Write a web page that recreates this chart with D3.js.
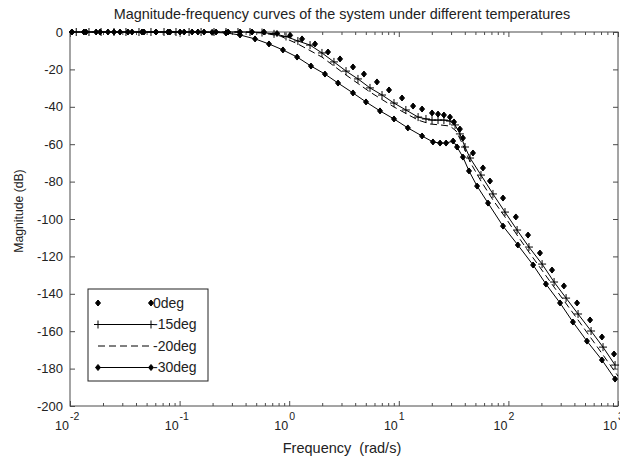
<!DOCTYPE html>
<html>
<head>
<meta charset="utf-8">
<script src="https://cdn.jsdelivr.net/npm/d3@7"></script>
<style>
  html, body { margin: 0; padding: 0; background: #fff; }
  svg { display: block; font-family: "Liberation Sans", Arial, sans-serif; }
</style>
</head>
<body>
<div id="chart"></div>
<script>
// Magnitude-frequency data (rad/s, dB)
const freq0 = [0.0104, 0.0134, 0.0173, 0.0222, 0.0286, 0.0368, 0.0473, 0.0609, 0.0783, 0.101,
  0.130, 0.167, 0.215, 0.277, 0.356, 0.458, 0.589, 0.774, 1.02, 1.31, 1.72, 2.26, 2.91, 3.82,
  4.81, 6.32, 8.14, 10.7, 13.5, 16.3, 20.1, 22.8, 25.8, 29.3, 31.9, 36.1, 38.5, 47.5, 58.6,
  67.9, 89.3, 117, 151, 194, 250, 321, 423, 556, 714, 920];
const mag0 = [0, 0, 0, 0, 0, 0, 0, 0, 0, 0,
  0, 0, 0, 0, 0, 0, 0, -0.8, -1.8, -3.7, -6.4, -10.7, -14.4, -18.7,
  -22.5, -26.7, -31.0, -35.3, -39.6, -41.2, -43.3, -43.9, -44.4, -45.5, -48.1, -51.9, -56.7, -64.7, -72.7,
  -79.7, -88.8, -98.9, -108.6, -118.2, -127.3, -135.8, -144.9, -154.0, -163.1, -172.2];

const freq15 = [0.0114, 0.0149, 0.0192, 0.0252, 0.0324, 0.0426, 0.0548, 0.0721, 0.0927, 0.122,
  0.157, 0.206, 0.265, 0.341, 0.439, 0.565, 0.727, 0.935, 1.20, 1.55, 1.99, 2.56, 3.30, 4.24,
  5.46, 7.03, 9.04, 11.6, 15.0, 17.7, 20.1, 22.8, 25.8, 29.3, 32.6, 36.1, 40.2, 44.7, 56.2,
  72.3, 93.1, 120, 154, 203, 261, 336, 432, 568, 730, 940];
const mag15 = [0, 0, 0, 0, 0, 0, 0, 0, 0, 0,
  0, 0, 0, 0, 0, -0.3, -1.0, -2.4, -4.8, -7.0, -11.2, -16.0, -20.9, -25.1,
  -29.9, -33.7, -38.0, -41.7, -45.5, -46.5, -47.1, -47.1, -47.1, -47.6, -49.7, -54.5, -61.5, -67.4, -76.5,
  -86.6, -96.3, -105.9, -115.0, -124.1, -133.7, -142.3, -150.8, -159.9, -168.5, -178.1];

const freq20 = [0.01, 0.101, 0.356, 0.565, 0.824, 1.20, 1.99, 3.30, 5.46, 9.04, 15.0, 19.3,
  23.8, 29.3, 33.3, 37.8, 44.7, 56.2, 72.3, 93.1, 120, 154, 261, 432, 730, 1000];
const mag20 = [0, 0, 0, -0.5, -2.1, -6.4, -13.4, -23.0, -32.1, -40.1, -47.1, -49.2,
  -49.7, -50.3, -52.9, -59.4, -69.5, -79.7, -89.8, -98.9, -108.6, -117.7, -136.4, -154.0, -172.7, -184.0];

const freq30 = [0.0104, 0.0140, 0.0188, 0.0252, 0.0338, 0.0454, 0.0609, 0.0817, 0.110, 0.147,
  0.198, 0.265, 0.356, 0.488, 0.654, 0.877, 1.18, 1.58, 2.12, 2.79, 3.82, 5.02, 6.74, 9.04,
  12.1, 16.3, 20.5, 23.8, 27.0, 31.3, 34.0, 38.5, 43.7, 51.8, 65.2, 89.3, 122, 168, 220,
  296, 388, 521, 714, 940];
const mag30 = [0, 0, 0, 0, 0, 0, 0, 0, 0, 0,
  -0.2, -0.5, -1.6, -3.7, -6.4, -9.6, -13.4, -18.2, -22.5, -27.3, -32.6, -37.4, -42.2, -46.5,
  -51.3, -55.6, -58.8, -59.4, -59.4, -58.3, -61.5, -66.9, -74.3, -82.4, -91.5, -103.8, -113.9, -124.6, -134.8,
  -144.9, -155.1, -165.3, -175.4, -185.6];

const legendLabels = ["0deg", "-15deg", "-20deg", "-30deg"];
const yTicks = [0, -20, -40, -60, -80, -100, -120, -140, -160, -180, -200];
const xDecades = [-2, -1, 0, 1, 2, 3];

const width = 620, height = 459;
const margin = { top: 32, right: 2, bottom: 53, left: 70 };
const innerW = width - margin.left - margin.right;
const innerH = height - margin.top - margin.bottom;

const svg = d3.select("#chart").append("svg")
  .attr("width", width)
  .attr("height", height);

const x = d3.scaleLog().domain([1e-2, 1e3]).range([margin.left, margin.left + innerW]);
const y = d3.scaleLinear().domain([-200, 0]).range([margin.top + innerH, margin.top]);

const axisColor = "#4a4a4a";
const textColor = "#222";

// minor + major log ticks
const majorTicks = xDecades.map((e) => Math.pow(10, e));
const minorTicks = [];
xDecades.slice(0, -1).forEach((e) => {
  for (let k = 2; k <= 9; k++) minorTicks.push(k * Math.pow(10, e));
});

function styleAxis(g) {
  g.select(".domain").remove();
  g.selectAll("line").attr("stroke", axisColor);
}

svg.append("g")
  .attr("transform", `translate(0,${margin.top + innerH})`)
  .call(d3.axisBottom(x).tickValues(majorTicks).tickSize(-5).tickFormat(""))
  .call(styleAxis);
svg.append("g")
  .attr("transform", `translate(0,${margin.top + innerH})`)
  .call(d3.axisBottom(x).tickValues(minorTicks).tickSize(-3).tickFormat(""))
  .call(styleAxis);
svg.append("g")
  .attr("transform", `translate(0,${margin.top})`)
  .call(d3.axisTop(x).tickValues(majorTicks).tickSize(-5).tickFormat(""))
  .call(styleAxis);
svg.append("g")
  .attr("transform", `translate(0,${margin.top})`)
  .call(d3.axisTop(x).tickValues(minorTicks).tickSize(-3).tickFormat(""))
  .call(styleAxis);

svg.append("g")
  .attr("transform", `translate(${margin.left},0)`)
  .call(d3.axisLeft(y).tickValues(yTicks).tickSize(-5).tickFormat(""))
  .call(styleAxis);
svg.append("g")
  .attr("transform", `translate(${margin.left + innerW},0)`)
  .call(d3.axisRight(y).tickValues(yTicks).tickSize(-5).tickFormat(""))
  .call(styleAxis);

// box
svg.append("rect")
  .attr("x", margin.left).attr("y", margin.top)
  .attr("width", innerW).attr("height", innerH)
  .attr("fill", "none").attr("stroke", axisColor).attr("stroke-width", 1);

// y tick labels
svg.append("g").selectAll("text")
  .data(yTicks)
  .join("text")
  .attr("x", margin.left - 7)
  .attr("y", (d) => y(d))
  .attr("dy", "0.35em")
  .attr("text-anchor", "end")
  .attr("font-size", 13)
  .attr("fill", textColor)
  .text((d) => d);

// x tick labels: 10 with superscript exponent
const xl = svg.append("g").selectAll("g")
  .data(xDecades)
  .join("g");
xl.append("text")
  .attr("x", (d) => x(Math.pow(10, d)) - 1)
  .attr("y", margin.top + innerH + 24)
  .attr("text-anchor", "end")
  .attr("font-size", 12.5)
  .attr("fill", textColor)
  .text("10");
xl.append("text")
  .attr("x", (d) => x(Math.pow(10, d)))
  .attr("y", margin.top + innerH + 14)
  .attr("font-size", 10.5)
  .attr("fill", textColor)
  .text((d) => d);

// titles
svg.append("text")
  .attr("x", 342).attr("y", 19)
  .attr("text-anchor", "middle")
  .attr("font-size", 14.4)
  .attr("fill", textColor)
  .text("Magnitude-frequency curves of the system under different temperatures");
svg.append("text")
  .attr("x", 342).attr("y", 453)
  .attr("text-anchor", "middle")
  .attr("font-size", 14.5)
  .attr("fill", textColor)
  .attr("xml:space", "preserve")
  .text("Frequency  (rad/s)");
svg.append("text")
  .attr("transform", `translate(23,${211}) rotate(-90)`)
  .attr("text-anchor", "middle")
  .attr("font-size", 12.2)
  .attr("fill", textColor)
  .text("Magnitude (dB)");

// series
const line = d3.line().x((d) => x(d[0])).y((d) => y(d[1]));
const pts = (f, m) => f.map((v, i) => [v, m[i]]);

const diamond = (cx, cy) => `M${cx},${cy - 3}L${cx + 2.5},${cy}L${cx},${cy + 3}L${cx - 2.5},${cy}Z`;
const plus = (cx, cy) => `M${cx - 4},${cy}H${cx + 4}M${cx},${cy - 4}V${cy + 4}`;

const series = [
  { label: legendLabels[0], data: pts(freq0, mag0), line: false, marker: "diamond" },
  { label: legendLabels[1], data: pts(freq15, mag15), line: true, dash: null, marker: "plus" },
  { label: legendLabels[2], data: pts(freq20, mag20), line: true, dash: "7,4", marker: null },
  { label: legendLabels[3], data: pts(freq30, mag30), line: true, dash: null, marker: "diamond" },
];

const plot = svg.append("g");
series.forEach((s) => {
  if (s.line) {
    plot.append("path")
      .datum(s.data)
      .attr("d", line)
      .attr("fill", "none")
      .attr("stroke", "#000")
      .attr("stroke-width", 1)
      .attr("stroke-dasharray", s.dash);
  }
  if (s.marker) {
    plot.append("g").selectAll("path")
      .data(s.data)
      .join("path")
      .attr("d", (d) => s.marker === "diamond" ? diamond(x(d[0]), y(d[1])) : plus(x(d[0]), y(d[1])))
      .attr("fill", s.marker === "diamond" ? "#000" : "none")
      .attr("stroke", "#000")
      .attr("stroke-width", 1);
  }
});

// legend
const legend = svg.append("g").attr("transform", "translate(88,289)");
legend.append("rect")
  .attr("width", 120).attr("height", 92)
  .attr("fill", "#fff").attr("stroke", "#222").attr("stroke-width", 1);

series.forEach((s, i) => {
  const ly = 14 + i * 21.5;
  const x1 = 10, x2 = 63;
  if (s.line) {
    legend.append("line")
      .attr("x1", x1).attr("x2", x2).attr("y1", ly).attr("y2", ly)
      .attr("stroke", "#000").attr("stroke-width", 1)
      .attr("stroke-dasharray", s.dash);
  }
  if (s.marker) {
    [x1, x2].forEach((mx) => {
      legend.append("path")
        .attr("d", s.marker === "diamond" ? diamond(mx, ly) : plus(mx, ly))
        .attr("fill", s.marker === "diamond" ? "#000" : "none")
        .attr("stroke", "#000");
    });
  }
  legend.append("text")
    .attr("x", 65).attr("y", ly)
    .attr("dy", "0.35em")
    .attr("font-size", 14)
    .attr("fill", textColor)
    .text(s.label);
});
</script>
</body>
</html>
